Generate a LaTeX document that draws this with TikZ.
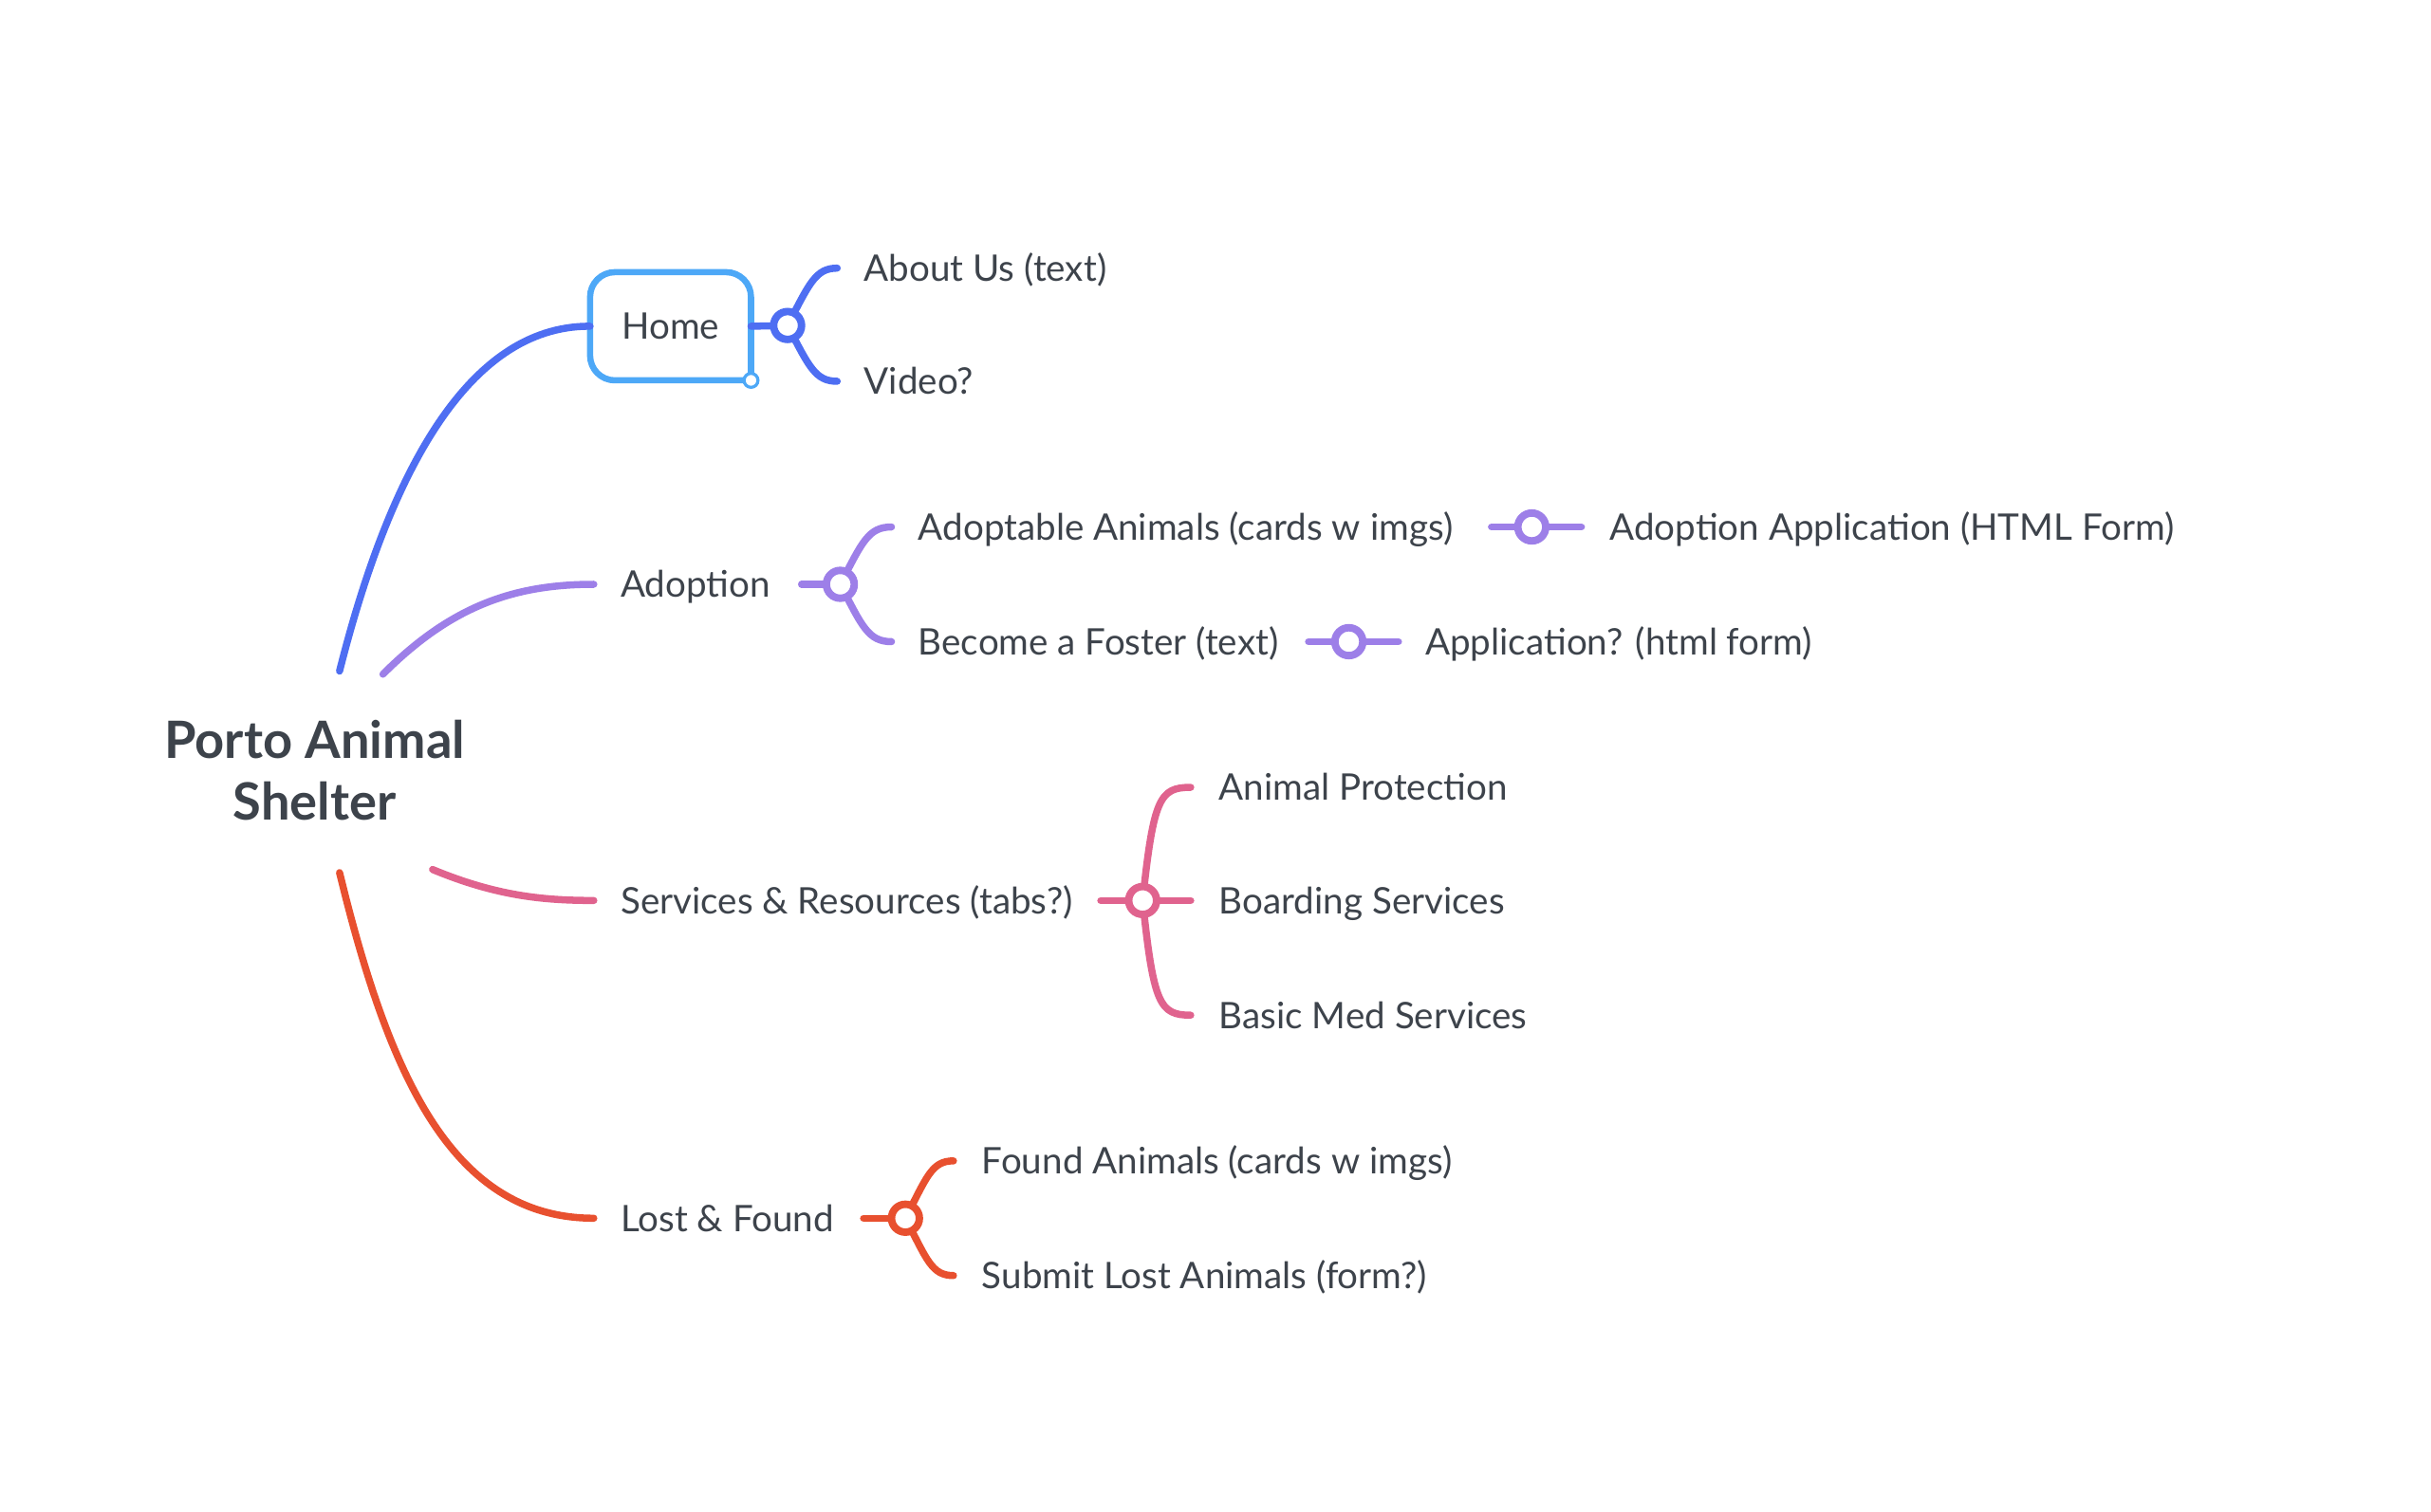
\documentclass[tikz,border=0pt]{standalone}
\usepackage{fontspec}
\setmainfont{Lato}
\definecolor{txt}{HTML}{3D434B}
\definecolor{cblue}{HTML}{4E6EF2}
\definecolor{homebox}{HTML}{4DA8F7}
\definecolor{cpurple}{HTML}{9D7FE8}
\definecolor{cpink}{HTML}{E0638E}
\definecolor{cred}{HTML}{E8502F}
\begin{document}
\begin{tikzpicture}[x=0.5pt,y=-0.5pt,
  lbl/.style={anchor=base west, inner sep=0pt, text=txt, font=\fontsize{11.8}{14}\selectfont},
  br/.style={line width=2.3pt, line cap=round},
  knot/.style={circle, draw, fill=white, line width=2.4pt, minimum size=9pt, inner sep=0pt}]
\path[use as bounding box] (0,0) rectangle (1568,975.5);

% root
\node[font=\bfseries\fontsize{16.6}{20}\selectfont, align=center, text=txt] (root) at (203,497) {Porto Animal\\Shelter};
\coordinate (sb) at (219,433);
\coordinate (sp) at (247,435);
\coordinate (sk) at (279,561);
\coordinate (sr) at (219,563);

% Home
\node[minimum width=51.5pt, minimum height=34.5pt, inner sep=0pt, text=txt, font=\fontsize{11.8}{14}\selectfont] (home) at (432.5,210.5) {Home};
\draw[homebox, line width=2pt, rounded corners=8pt] (home.south east) -- (home.south west) -- (home.north west) -- (home.north east) -- (home.south east);
\node[circle, draw=homebox, fill=white, line width=1pt, minimum size=4.5pt, inner sep=0pt] (homeh) at (home.south east) {};
\draw[br, cblue] (sb) .. controls (250,310) and (300,210) .. (home.west);
\coordinate (k1) at (508,210);
\coordinate (e1a) at (540,173);
\coordinate (e1b) at (540,246);
\draw[br, cblue] (home.east) -- (k1);
\draw[br, cblue] (k1) .. controls (522,183) and (526,173) .. (e1a);
\draw[br, cblue] (k1) .. controls (522,237) and (526,246) .. (e1b);
\node[knot, draw=cblue] (k1n) at (k1) {};
\node[lbl] (about) at (557,181.5) {About Us (text)};
\node[lbl] (video) at (557,254.5) {Video?};

% Adoption
\node[lbl] (adopt) at (400,385.5) {Adoption};
\draw[br, cpurple] (sp) .. controls (290,392) and (330,377) .. (383,377);
\coordinate (k2) at (542,377);
\coordinate (s2) at (517,377);
\coordinate (e2a) at (575,340);
\coordinate (e2b) at (575,414);
\draw[br, cpurple] (s2) -- (k2);
\draw[br, cpurple] (k2) .. controls (556,350) and (560,340) .. (e2a);
\draw[br, cpurple] (k2) .. controls (556,404) and (560,414) .. (e2b);
\node[knot, draw=cpurple] (k2n) at (k2) {};
\node[lbl] (adoptable) at (592,348.5) {Adoptable Animals (cards w imgs)};
\node[lbl] (foster) at (592,422.5) {Become a Foster (text)};
\coordinate (s3) at (962,340);
\coordinate (e3) at (1020,340);
\draw[br, cpurple] (s3) -- (e3);
\node[knot, draw=cpurple] (k3n) at (988,340) {};
\node[lbl] (appl) at (1038,348.5) {Adoption Application (HTML Form)};
\coordinate (s4) at (844,414);
\coordinate (e4) at (902,414);
\draw[br, cpurple] (s4) -- (e4);
\node[knot, draw=cpurple] (k4n) at (870,414) {};
\node[lbl] (appf) at (919,422.5) {Application? (html form)};

% Services
\node[lbl] (serv) at (400,589.5) {Services \& Resources (tabs?)};
\draw[br, cpink] (sk) .. controls (320,578) and (350,581) .. (383,581);
\coordinate (k5) at (737,581);
\coordinate (s5) at (710,581);
\coordinate (e5a) at (768,508);
\coordinate (e5m) at (768,581);
\coordinate (e5b) at (768,655);
\draw[br, cpink] (s5) -- (e5m);
\draw[br, cpink] (k5) .. controls (744,515) and (748,508) .. (e5a);
\draw[br, cpink] (k5) .. controls (744,648) and (748,655) .. (e5b);
\node[knot, draw=cpink] (k5n) at (k5) {};
\node[lbl] (prot) at (786,516.5) {Animal Protection};
\node[lbl] (board) at (786,589.5) {Boarding Services};
\node[lbl] (med) at (786,663.5) {Basic Med Services};

% Lost & Found
\node[lbl] (lost) at (400,794.5) {Lost \& Found};
\draw[br, cred] (sr) .. controls (250,690) and (290,786) .. (383,786);
\coordinate (k6) at (584,786);
\coordinate (s6) at (557,786);
\coordinate (e6a) at (615,749);
\coordinate (e6b) at (615,823);
\draw[br, cred] (s6) -- (k6);
\draw[br, cred] (k6) .. controls (598,759) and (601,749) .. (e6a);
\draw[br, cred] (k6) .. controls (598,813) and (601,823) .. (e6b);
\node[knot, draw=cred] (k6n) at (k6) {};
\node[lbl] (found) at (633,757.5) {Found Animals (cards w imgs)};
\node[lbl] (submit) at (633,831.5) {Submit Lost Animals (form?)};
\end{tikzpicture}
\end{document}
